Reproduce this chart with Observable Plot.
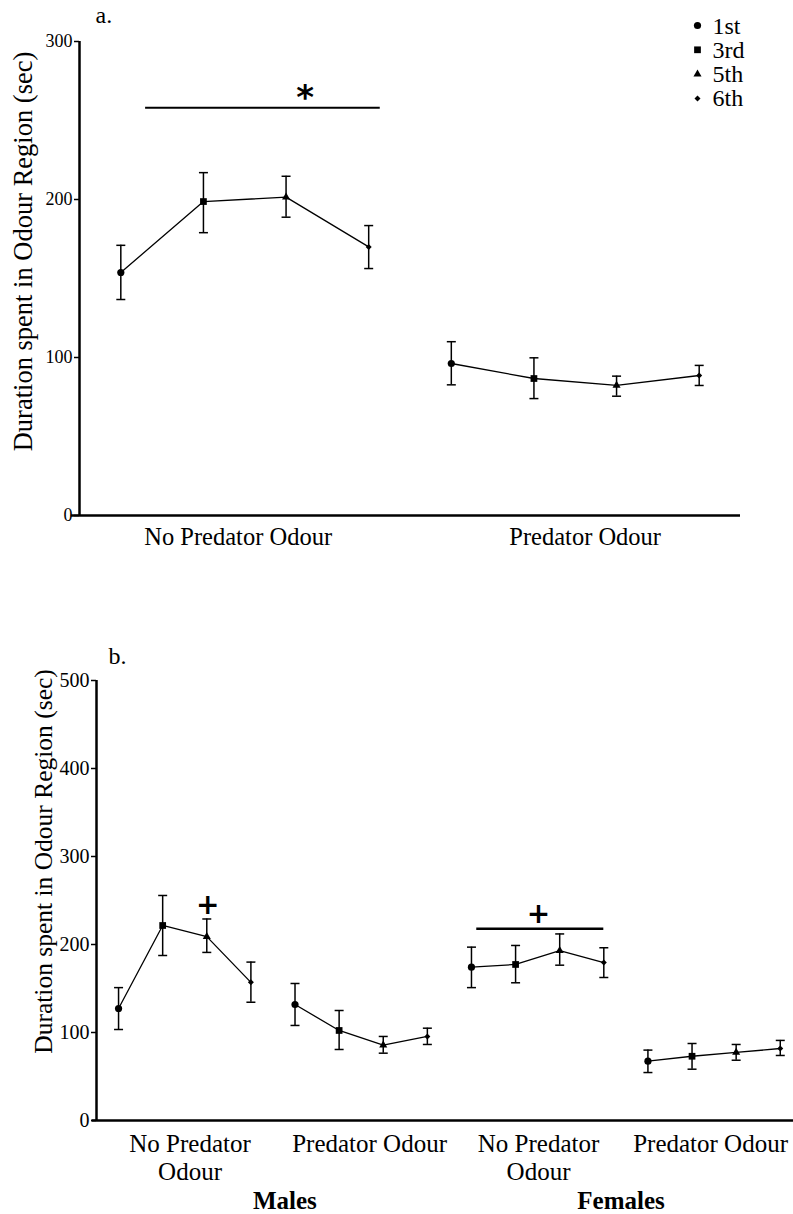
<!DOCTYPE html>
<html><head><meta charset="utf-8">
<script src="https://cdn.jsdelivr.net/npm/d3@7"></script>
<script src="https://cdn.jsdelivr.net/npm/@observablehq/plot@0.6"></script>
<style>
body{margin:0;background:#fff;overflow:hidden}
#chart svg{display:block;max-width:none;font-family:'Liberation Serif','Times New Roman',serif}
</style>
</head><body><div id="chart"></div>
<script>
// ---------- data ----------
const sessions = ["1st", "3rd", "5th", "6th"];

// Panel a
const aConditions = ["No Predator Odour", "Predator Odour"];
const aMean  = [153.8, 198.7, 201.5, 170.0,  96.2, 86.7, 82.3, 88.6];
const aUpper = [171.0, 217.0, 214.7, 183.5, 110.0, 99.8, 88.2, 95.0];
const aLower = [136.7, 179.0, 188.8, 156.3,  82.7, 74.0, 75.5, 82.3];
const aYTicks = [0, 100, 200, 300];
const aLabelPos = [1.42, 5.62];

// Panel b
const bConditions = ["No Predator\nOdour", "Predator Odour", "No Predator\nOdour", "Predator Odour"];
const bSexes = ["Males", "Females"];
const bMean  = [127.3, 221.6, 209.0, 157.0, 131.8, 102.3, 85.6,  95.5, 174.2, 177.3, 193.0, 179.5, 67.4, 73.0, 77.3, 81.8];
const bUpper = [151.0, 255.7, 229.0, 180.0, 155.7, 125.0, 95.5, 104.9, 197.0, 198.9, 212.0, 196.3, 80.0, 87.5, 86.4, 91.0];
const bLower = [103.4, 187.5, 191.0, 134.4, 108.0,  80.7, 76.5,  86.4, 151.0, 156.5, 176.5, 162.5, 54.5, 58.3, 68.5, 73.9];
const bYTicks = [0, 100, 200, 300, 400, 500];
const bLabelPos = [1.62, 5.69, 9.52, 13.42];
const bSexPos = [3.77, 11.39];

// significance annotations
const aSig = [{x1: 0.30, x2: 3.14, y: 258, label: "*", lx: 2.23, ly: 269}];
const bSigLines = [{x1: 8.12, x2: 11.0, y: 218}];
const bSigMarks = [{x: 2.02, y: 245, label: "+"}, {x: 9.52, y: 235, label: "+"}];

// ---------- helpers ----------
const serif = "Liberation Serif";
const symbolNames = ["circle", "square", "triangle", "diamond2"];
const symbolR = [3.6, 3.8, 3.0, 2.7];

function rowsOf(mean, lo, hi) {
  return mean.map((m, i) => ({i, group: Math.floor(i / 4), session: sessions[i % 4], mean: m, lo: lo[i], hi: hi[i]}));
}
function cap(w) {
  return {draw(ctx) { ctx.moveTo(-w / 2, 0); ctx.lineTo(w / 2, 0); }};
}
function seriesMarks(rows) {
  return [
    Plot.ruleX(rows, {x: "i", y1: "lo", y2: "hi", stroke: "black", strokeWidth: 1.5}),
    Plot.dot(rows, {x: "i", y: "hi", symbol: cap(9), stroke: "black", strokeWidth: 1.5, fill: "none"}),
    Plot.dot(rows, {x: "i", y: "lo", symbol: cap(9), stroke: "black", strokeWidth: 1.5, fill: "none"}),
    Plot.line(rows, {x: "i", y: "mean", z: "group", stroke: "black", strokeWidth: 1.3}),
    ...sessions.map((s, k) => Plot.dot(rows.filter(d => d.session === s),
      {x: "i", y: "mean", symbol: symbolNames[k], r: symbolR[k], fill: "black", stroke: "none"}))
  ];
}

const root = document.getElementById("chart");

// ---------- panel a ----------
const rowsA = rowsOf(aMean, aLower, aUpper);
const plotA = Plot.plot({
  width: 793, height: 575,
  marginLeft: 79, marginRight: 53, marginTop: 41, marginBottom: 60,
  style: {fontFamily: serif, fontSize: "18px", color: "black", background: "white"},
  x: {domain: [-0.5, 7.5], axis: null},
  y: {domain: [0, 300], axis: null},
  marks: [
    Plot.axisY({ticks: aYTicks, tickSize: 5, tickPadding: 2, fontSize: 18, fontFamily: serif, label: null, strokeWidth: 1.5}),
    Plot.ruleX([-0.5], {y1: 0, y2: 300, stroke: "black", strokeWidth: 2.5}),
    Plot.ruleY([0], {x1: -0.6, x2: 7.5, stroke: "black", strokeWidth: 2.5}),
    ...seriesMarks(rowsA),
    Plot.text(aConditions, {x: (d, i) => aLabelPos[i], y: 0, text: d => d, lineAnchor: "top", dy: 12, fontSize: 24.5, fontFamily: serif}),
    Plot.ruleY(aSig, {x1: "x1", x2: "x2", y: "y", stroke: "black", strokeWidth: 2}),
    Plot.text(aSig, {x: "lx", y: "ly", text: "label", fontFamily: "DejaVu Sans", fontWeight: "bold", fontSize: 34, lineAnchor: "middle", dy: 8}),
    Plot.text(["Duration spent in Odour Region (sec)"], {frameAnchor: "left", dx: -56, dy: -27, rotate: -90, fontSize: 26.5, fontFamily: serif, textAnchor: "middle", lineAnchor: "middle"}),
    Plot.text(["a."], {frameAnchor: "top-left", dx: 16, dy: -19, textAnchor: "start", lineAnchor: "bottom", fontSize: 24, fontFamily: serif}),
    ...sessions.map((s, k) => Plot.dot([s], {frameAnchor: "top-right", dx: -43, dy: -16 + k * 24.3, symbol: symbolNames[k], r: symbolR[k], fill: "black", stroke: "none"})),
    ...sessions.map((s, k) => Plot.text([s], {frameAnchor: "top-right", dx: -28, dy: -8 + k * 24.3, textAnchor: "start", lineAnchor: "bottom", fontSize: 24, fontFamily: serif}))
  ]
});
root.appendChild(plotA);

// ---------- panel b ----------
const rowsB = rowsOf(bMean, bLower, bUpper);
const plotB = Plot.plot({
  width: 793, height: 639,
  marginLeft: 96, marginRight: 0, marginTop: 105, marginBottom: 94,
  style: {fontFamily: serif, fontSize: "20px", color: "black", background: "white"},
  x: {domain: [-0.5, 15.3], axis: null},
  y: {domain: [0, 500], axis: null},
  marks: [
    Plot.axisY({ticks: bYTicks, tickSize: 5, tickPadding: 2, fontSize: 20, fontFamily: serif, label: null, strokeWidth: 1.5}),
    Plot.ruleX([-0.5], {y1: 0, y2: 500, stroke: "black", strokeWidth: 2.5}),
    Plot.ruleY([0], {x1: -0.6, x2: 15.3, stroke: "black", strokeWidth: 2.5}),
    ...seriesMarks(rowsB),
    Plot.text(bConditions, {x: (d, i) => bLabelPos[i], y: 0, text: d => d, lineAnchor: "top", dy: 12, lineHeight: 1.12, fontSize: 25, fontFamily: serif}),
    Plot.text(bSexes, {x: (d, i) => bSexPos[i], y: 0, text: d => d, lineAnchor: "bottom", dy: 88, fontSize: 25, fontWeight: "bold", fontFamily: serif}),
    Plot.ruleY(bSigLines, {x1: "x1", x2: "x2", y: "y", stroke: "black", strokeWidth: 2.5}),
    Plot.text(bSigMarks, {x: "x", y: "y", text: "label", fontFamily: "DejaVu Sans", fontWeight: "bold", fontSize: 28, lineAnchor: "middle"}),
    Plot.text(["Duration spent in Odour Region (sec)"], {frameAnchor: "left", dx: -53, dy: -39, rotate: -90, fontSize: 25.5, fontFamily: serif, textAnchor: "middle", lineAnchor: "middle"}),
    Plot.text(["b."], {frameAnchor: "top-left", dx: 12, dy: -17, textAnchor: "start", lineAnchor: "bottom", fontSize: 24, fontFamily: serif})
  ]
});
root.appendChild(plotB);
</script></body></html>
